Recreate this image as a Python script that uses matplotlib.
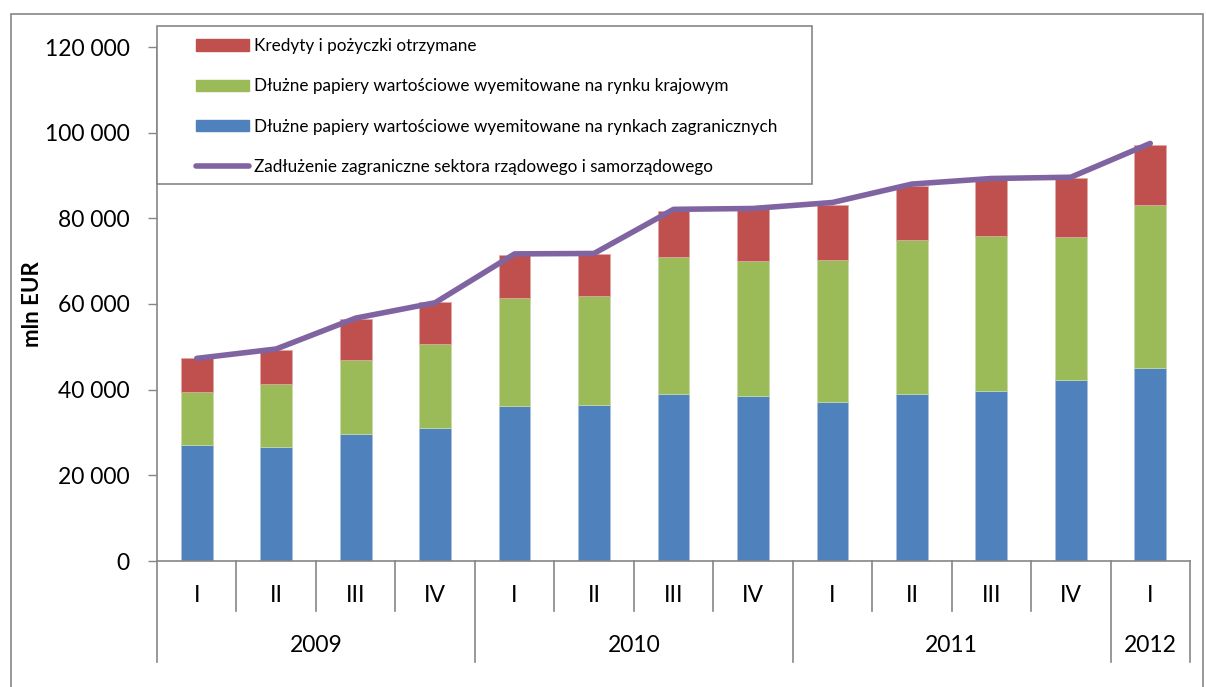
import matplotlib
matplotlib.use("Agg")
import matplotlib.pyplot as plt
import numpy as np
from matplotlib.patches import Patch, Rectangle
from matplotlib.lines import Line2D

plt.rcParams['font.family'] = ['Lato', 'DejaVu Sans']

# data (mln EUR)
quarters = ['I', 'II', 'III', 'IV', 'I', 'II', 'III', 'IV', 'I', 'II', 'III', 'IV', 'I']
years = ['2009', '2010', '2011', '2012']
year_len = [4, 4, 4, 1]
foreign = [27000, 26500, 29600, 31100, 36300, 36500, 39100, 38600, 37200, 39100, 39800, 42300, 45000]
domestic = [12400, 14800, 17300, 19600, 25100, 25300, 31800, 31400, 33100, 35800, 36000, 33300, 38100]
credits = [7900, 8000, 9600, 9700, 10100, 9800, 10900, 12100, 12900, 12700, 13300, 13900, 14100]
total = [47300, 49500, 56700, 60300, 71700, 71800, 82100, 82300, 83700, 88000, 89300, 89600, 97500]

lab_credits = 'Kredyty i pożyczki otrzymane'
lab_domestic = 'Dłużne papiery wartościowe wyemitowane na rynku krajowym'
lab_foreign = 'Dłużne papiery wartościowe wyemitowane na rynkach zagranicznych'
lab_total = 'Zadłużenie zagraniczne sektora rządowego i samorządowego'

c_blue = '#4F81BD'
c_green = '#9BBB59'
c_red = '#C0504D'
c_purple = '#8064A2'
grey = '#868686'

W, H = 1206, 687
fig = plt.figure(figsize=(W / 100, H / 100), dpi=100)
ax = fig.add_axes([157 / W, 1 - 561 / H, (1190 - 157) / W, (561 - 47) / H])

x = np.arange(len(quarters))
bw = 0.4
ax.bar(x, foreign, bw, color=c_blue, edgecolor='#a9c0de', linewidth=0.5, zorder=2)
ax.bar(x, domestic, bw, bottom=foreign, color=c_green, edgecolor='#c8dbaa', linewidth=0.5, zorder=2)
bottom2 = np.array(foreign) + np.array(domestic)
ax.bar(x, credits, bw, bottom=bottom2, color=c_red, edgecolor='#e0a8a6', linewidth=0.5, zorder=2)
ax.plot(x, total, color=c_purple, lw=4, solid_capstyle='round', solid_joinstyle='round', zorder=3)

ax.set_xlim(-0.5, len(quarters) - 0.5)
ax.set_ylim(0, 120000)
ax.set_yticks(np.arange(0, 120001, 20000))
ax.set_yticklabels([f'{v:,}'.replace(',', ' ') for v in range(0, 120001, 20000)], fontsize=16.5)
ax.tick_params(axis='y', length=6.5, width=1, color=grey, pad=13)
ax.set_xticks([])
for s in ['top', 'right']:
    ax.spines[s].set_visible(False)
for s in ['left', 'bottom']:
    ax.spines[s].set_color(grey)
    ax.spines[s].set_linewidth(1.2)
ax.set_ylabel('mln EUR', fontsize=16, fontweight='bold')
ax.yaxis.set_label_coords(-(157 - 43) / (1190 - 157), 0.5)

# multi-level category axis
tr = ax.get_xaxis_transform()
ah = 561 - 47
q_low = -(611 - 561) / ah
y_low = -(662 - 561) / ah
for i, q in enumerate(quarters):
    ax.text(i, -(596 - 561) / ah, q, transform=tr, ha='center', va='center', fontsize=16.5)
bounds = np.concatenate([[0], np.cumsum(year_len)])
for k in range(len(quarters) + 1):
    bot = y_low if k in bounds else q_low
    ax.add_line(Line2D([k - 0.5, k - 0.5], [0, bot], transform=tr, color=grey, lw=1.2, clip_on=False))
for yr, a, b in zip(years, bounds[:-1], bounds[1:]):
    ax.text((a + b - 1) / 2, -(646 - 561) / ah, yr, transform=tr, ha='center', va='center', fontsize=16.5)

# legend box and entries
ax.add_patch(Rectangle((157 / W, 1 - 184 / H), (812 - 157) / W, (184 - 25.7) / H,
                       transform=fig.transFigure, facecolor='white', edgecolor=grey,
                       lw=1.2, zorder=4, clip_on=False))
handles = [Patch(color=c_red), Patch(color=c_green), Patch(color=c_blue),
           Line2D([], [], color=c_purple, lw=4, solid_capstyle='round')]
leg = ax.legend(handles, [lab_credits, lab_domestic, lab_foreign, lab_total],
                loc='upper left', bbox_to_anchor=(196 / W, 1 - 38 / H), bbox_transform=fig.transFigure,
                frameon=False, fontsize=12.3, handlelength=3.1, handleheight=0.65,
                handletextpad=0.3, labelspacing=1.42, borderpad=0, borderaxespad=0)
leg.set_zorder(5)

# outer chart border
fig.add_artist(Rectangle((10.5 / W, -0.05), (1202.5 - 10.5) / W, 1.05 - 13.5 / H,
                         transform=fig.transFigure, fill=False, edgecolor=grey, lw=1.2))

fig.savefig('out.png', dpi=100)
